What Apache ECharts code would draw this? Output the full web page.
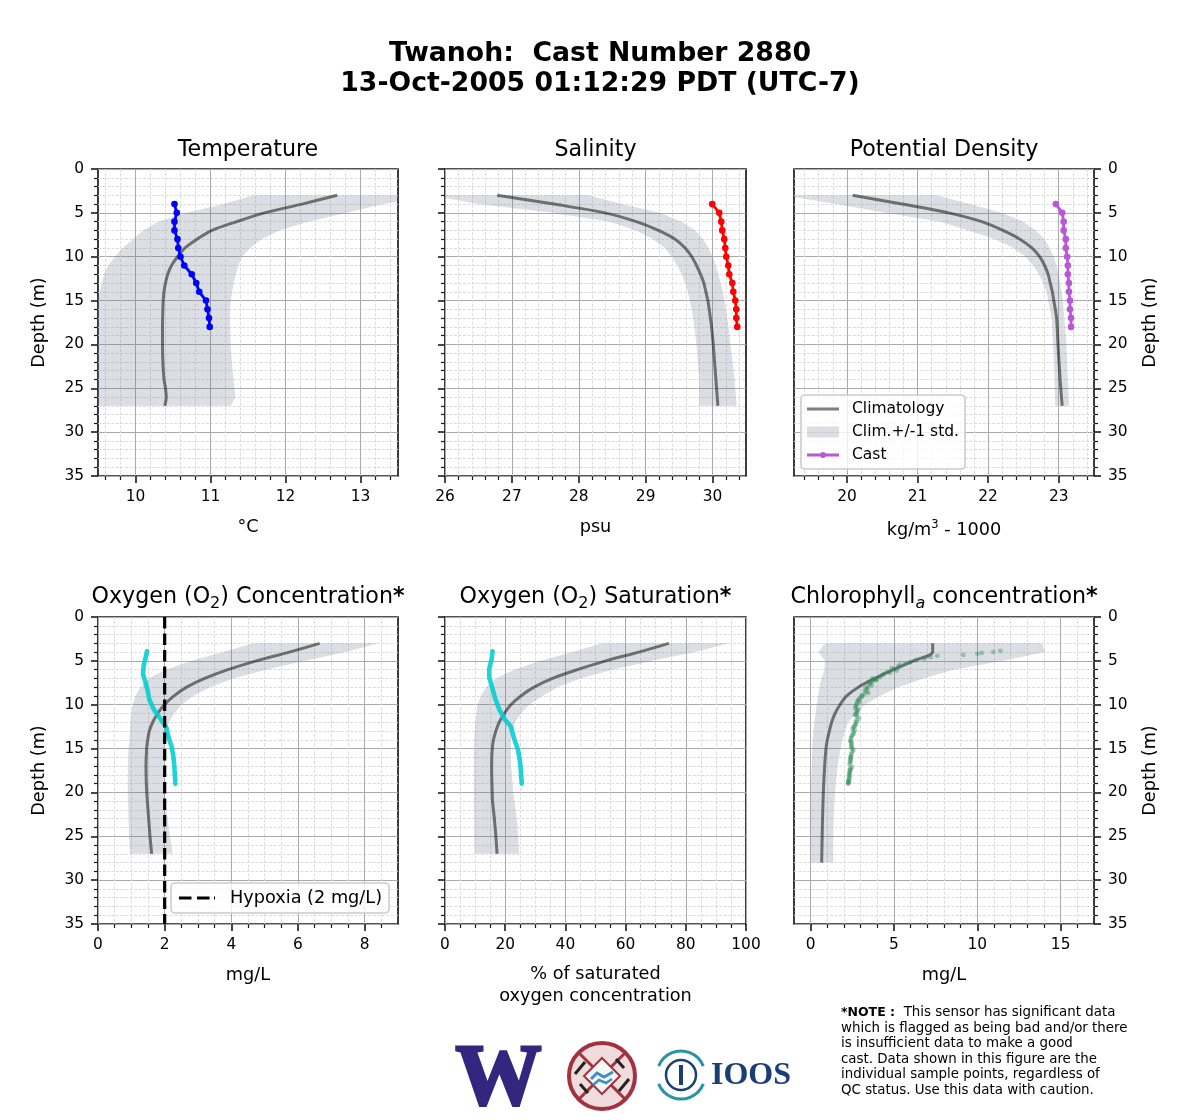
<!DOCTYPE html>
<html><head><meta charset="utf-8">
<style>html,body{margin:0;padding:0;background:#fff}#c{width:1200px;height:1120px}</style>
<script src="https://cdn.jsdelivr.net/npm/echarts@6/dist/echarts.min.js"></script>
</head><body><div id="c"></div>
<script>
// Each list holds [value, depth in m]
const tempTicks=[10,11,12,13];
const salTicks=[26,27,28,29,30];
const densTicks=[20,21,22,23];
const o2cTicks=[0,2,4,6,8];
const o2sTicks=[0,20,40,60,80,100];
const chlTicks=[0,5,10,15];

const tempClim=[[12.69,3],[12.22,4],[11.72,5],[11.35,6],[11.02,7],[10.82,8],[10.66,9],[10.56,10],[10.48,11],[10.43,12],[10.40,13],[10.38,14],[10.37,15],[10.365,16],[10.36,18],[10.36,20],[10.365,22],[10.38,24],[10.40,25],[10.41,26],[10.39,27]];
const tempLow=[[11.57,3],[11.17,4],[10.68,5],[10.3,6],[10.1,7],[9.97,8],[9.83,9],[9.72,10],[9.64,11],[9.58,12],[9.55,13],[9.52,14],[9.49,15],[9.45,17],[9.43,20],[9.43,24],[9.45,27]];
const tempHigh=[[14.0,3],[13.3,4],[12.82,5],[12.3,6],[11.92,7],[11.68,8],[11.53,9],[11.42,10],[11.37,11],[11.34,12],[11.31,13],[11.29,14],[11.27,15],[11.26,16],[11.26,18],[11.27,20],[11.29,22.6],[11.32,25],[11.33,26],[11.27,27]];
const tempCast=[[10.52,4],[10.55,5],[10.52,6],[10.52,7],[10.56,8],[10.57,9],[10.60,10],[10.65,11],[10.75,12],[10.81,13],[10.85,14],[10.94,15],[10.96,16],[10.98,17],[10.99,18]];

const salClim=[[26.78,3],[27.63,4],[28.39,5],[28.86,6],[29.19,7],[29.44,8],[29.59,9],[29.69,10],[29.76,11],[29.82,12],[29.87,13],[29.9,14],[29.93,15],[29.95,16],[29.985,18],[30.01,20],[30.03,22],[30.05,24],[30.07,26],[30.08,27]];
const salLow=[[25.8,3],[26.5,4],[27.6,5],[28.46,6],[28.86,7],[29.11,8],[29.29,9],[29.39,10],[29.47,11],[29.54,12],[29.59,13],[29.63,14],[29.66,15],[29.71,17],[29.76,20],[29.8,24],[29.8,27]];
const salHigh=[[28.14,3],[28.64,4],[29.21,5],[29.54,6],[29.74,7],[29.86,8],[29.94,9],[30.0,10],[30.05,11],[30.09,12],[30.12,13],[30.155,14],[30.18,15],[30.22,17],[30.27,20],[30.33,24],[30.36,27]];
const salCast=[[29.995,4],[30.1,5],[30.13,6],[30.145,7],[30.175,8],[30.19,9],[30.205,10],[30.235,11],[30.25,12],[30.295,13],[30.31,14],[30.34,15],[30.355,16],[30.355,17],[30.37,18]];

const densClim=[[20.08,3],[20.78,4],[21.44,5],[21.91,6],[22.21,7],[22.45,8],[22.62,9],[22.73,10],[22.8,11],[22.85,12],[22.88,13],[22.91,14],[22.93,15],[22.97,17],[22.99,20],[23.02,24],[23.05,27]];
const densLow=[[19.1,3],[19.84,4],[20.55,5],[21.32,6],[21.72,7],[22.1,8],[22.36,9],[22.53,10],[22.64,11],[22.72,12],[22.78,13],[22.83,14],[22.85,15],[22.9,17],[22.92,20],[22.94,24],[22.95,27]];
const densHigh=[[21.27,3],[21.74,4],[22.19,5],[22.5,6],[22.68,7],[22.8,8],[22.87,9],[22.93,10],[22.97,11],[23.0,12],[23.02,13],[23.04,14],[23.06,15],[23.08,17],[23.11,20],[23.13,24],[23.15,27]];
const densCast=[[22.96,4],[23.05,5],[23.07,6],[23.07,7],[23.1,8],[23.1,9],[23.12,10],[23.13,11],[23.13,12],[23.145,13],[23.145,14],[23.16,15],[23.16,16],[23.175,17],[23.175,18]];

const o2cClim=[[6.65,3],[5.74,4],[4.75,5],[3.9,6],[3.2,7],[2.66,8],[2.28,9],[1.99,10],[1.79,11],[1.64,12],[1.54,13],[1.49,14],[1.46,15],[1.44,17],[1.45,19],[1.48,21],[1.52,23],[1.56,25],[1.61,27]];
const o2cLow=[[4.65,3],[3.76,4],[2.81,5],[2.02,6],[1.52,7],[1.27,8],[1.12,9],[1.04,10],[0.97,12],[0.94,14],[0.9,16],[0.89,20],[0.92,24],[0.95,27]];
const o2cHigh=[[8.42,3],[7.43,4],[6.23,5],[5.04,6],[4.05,7],[3.36,8],[2.86,9],[2.51,10],[2.28,11],[2.13,12],[2.06,13],[2.01,14],[1.98,15],[1.96,17],[1.98,20],[2.09,23],[2.16,25],[2.24,27]];
const o2cCast=[[1.47,3.9],[1.43,4.6],[1.37,5.5],[1.35,6.5],[1.42,7.4],[1.49,8.4],[1.54,9.4],[1.67,10.5],[1.87,11.6],[2.05,12.6],[2.13,13.9],[2.21,14.8],[2.26,15.9],[2.29,17],[2.32,19]];

const o2sClim=[[74.4,3],[64.4,4],[53.4,5],[44,6],[35.7,7],[29.6,8],[25.2,9],[21.9,10],[19.7,11],[18,12],[16.9,13],[16.1,14],[15.7,15],[15.5,17],[15.6,19],[15.8,21],[16.4,23],[16.9,25],[17.3,27]];
const o2sLow=[[52.3,3],[42.3,4],[31.8,5],[23,6],[16.9,7],[13.6,8],[11.9,9],[10.8,10],[10.1,12],[9.7,14],[9.6,16],[9.6,20],[9.8,27]];
const o2sHigh=[[94.3,3],[83.2,4],[68.8,5],[55.6,6],[45,7],[37.3,8],[32.4,9],[28,10],[25.2,11],[23.3,12],[22.4,13],[22,14],[21.9,15],[22,17],[22.7,20],[23.9,23],[24.3,25],[24.6,27]];
const o2sCast=[[15.8,3.9],[15.5,4.8],[14.7,5.9],[14.7,6.9],[15.8,8.2],[16.7,9.3],[18,10.5],[19.7,11.6],[21.9,12.5],[23,13.9],[24.3,15.2],[25,16.7],[25.5,19]];

const chlClim=[[7.32,3],[7.32,4],[6.16,5],[4.96,6],[3.86,7],[2.86,8],[2.16,9],[1.76,10],[1.46,11],[1.26,12],[1.12,13],[1.0,14],[0.92,15],[0.84,17],[0.76,20],[0.7,24],[0.66,28]];
const chlLow=[[0.86,3],[0.46,4],[0.86,5],[0.82,6],[0.66,7],[0.52,8],[0.36,10],[0.22,12],[0.12,14],[0.06,17],[0,20],[-0.02,24],[-0.02,28]];
const chlHigh=[[13.86,3],[14.1,4],[11.56,5],[8.56,6],[6.76,7],[5.26,8],[4.16,9],[3.26,10],[2.76,11],[2.26,12],[2.06,13],[1.92,14],[1.8,15],[1.62,17],[1.46,20],[1.36,24],[1.36,28]];
const chlCast=[[11.38,3.86],[10.96,3.98],[10.26,4.09],[10.0,4.2],[9.16,4.32],[7.6,4.43],[7.2,4.58],[6.82,4.77],[6.32,4.96],[5.96,5.19],[5.66,5.34],[5.36,5.42],[5.26,5.64],[4.86,5.83],[5.16,6.1],[4.76,6.36],[4.4,6.48],[4.16,6.86],[3.96,7.05],[3.72,7.3],[3.85,7.1],[3.56,7.6],[3.66,7.8],[3.5,7.4],[3.4,8.18],[3.46,8.67],[3.25,8.4],[3.2,8.83],[3.0,9.2],[3.1,9.05],[2.86,9.5],[2.95,9.7],[2.76,9.9],[2.72,10.27],[2.86,10.57],[2.76,10.83],[2.7,11.2],[2.8,11.0],[2.9,11.6],[2.76,11.97],[2.7,12.35],[2.56,12.6],[2.65,12.9],[2.6,13.3],[2.46,13.6],[2.4,14.05],[2.45,14.3],[2.46,14.5],[2.56,15.2],[2.5,15.0],[2.44,15.65],[2.4,16.1],[2.42,16.4],[2.36,16.6],[2.48,17.1],[2.4,17.4],[2.36,17.65],[2.3,18.1],[2.34,18.3],[2.28,18.6],[2.26,19],[2.3,18.85],
 [3.6,7.5],[3.45,7.95],[3.3,8.05],[3.35,8.5],[3.05,8.95],[2.9,9.35],[2.8,9.6],[2.72,10.05],[2.68,10.4],[2.78,10.7],[2.66,11.1],[2.8,11.35],[2.72,11.8],[2.68,12.15],[2.62,12.45],[2.52,12.75],[2.56,13.1],[2.5,13.45],[2.42,13.8],[2.38,14.2],[2.42,14.7],[2.46,14.85],[2.48,15.4],[2.42,15.85],[2.4,15.95],[2.36,16.3],[2.34,16.8],[2.38,17.25],[2.34,17.5],[2.32,17.8],[2.34,18.0],[2.3,18.45],[2.26,18.75],[2.24,18.95],[4.3,6.6],[4.6,6.25],[5.0,5.95],[3.95,7.2],[3.8,7.15],[3.7,7.0]];
const hypoxia=[[2,0],[2,35]];

const FONT='"DejaVu Sans"';
const BAND='rgba(112,128,144,0.25)';
const CLIM='rgba(0,0,0,0.5)';
const GRID_H=307;
const cols=[98,445,794], colW=[300,301,300], rows=[169,617];
const TICK=15.4, LABEL=17.7;
// legend icons: tiny corner triangles pin the path box to itemWidth x itemHeight
const pin32='M0 0L.01 0L.01 .01ZM32 11L31.99 11L31.99 10.99Z';
const ICON_LINE='path://'+pin32+'M0 4H32V7H0Z';
const ICON_MARK='path://'+pin32+'M0 4.1H32V6.9H0ZM13 5.5a3 3 0 1 1 6 0a3 3 0 1 1 -6 0Z';
const ICON_DASH='path://M0 0L.01 0L.01 .01ZM36 11L35.99 11L35.99 10.99ZM0 4H12.5V7H0ZM18 4H30.5V7H18ZM35 4H36V7H35Z';

function minors(min,max,step,majors){const out=[];const n=Math.ceil(min/step);
  for(let k=n;k*step<=max+1e-9;k++){const v=+(k*step).toFixed(4);
    if(v>min+1e-9&&v<max-1e-9&&!majors.includes(v))out.push(v);}return out;}

const panels=[
 {t:'Temperature',xn:'°C',min:9.5,max:13.5,maj:tempTicks,step:.2,clim:tempClim,lo:tempLow,hi:tempHigh,cast:tempCast,color:'#0000ff',kind:'mark'},
 {t:'Salinity',xn:'psu',min:26,max:30.5,maj:salTicks,step:.2,clim:salClim,lo:salLow,hi:salHigh,cast:salCast,color:'#ff0000',kind:'mark'},
 {t:'Potential Density',xn:'kg/m{sup|3} - 1000',min:19.25,max:23.5,maj:densTicks,step:.2,clim:densClim,lo:densLow,hi:densHigh,cast:densCast,color:'#b857d8',kind:'mark',names:true},
 {t:'Oxygen (O{sub|2}) Concentration{b|*}',xn:'mg/L',min:0,max:9,maj:o2cTicks,step:.5,clim:o2cClim,lo:o2cLow,hi:o2cHigh,cast:o2cCast,color:'rgba(0,206,209,0.88)',kind:'thick'},
 {t:'Oxygen (O{sub|2}) Saturation{b|*}',xn:'% of saturated\noxygen concentration',min:0,max:100,maj:o2sTicks,step:5,clim:o2sClim,lo:o2sLow,hi:o2sHigh,cast:o2sCast,color:'rgba(0,206,209,0.88)',kind:'thick'},
 {t:'Chlorophyll{ita|a} concentration{b|*}',xn:'mg/L',min:-1,max:17,maj:chlTicks,step:1,clim:chlClim,lo:chlLow,hi:chlHigh,cast:chlCast,color:'rgba(46,139,87,0.5)',kind:'scatter'}
];

const grid=[],xAxis=[],yAxis=[],series=[],title=[];
const titleRich={sub:{fontSize:16,fontFamily:FONT,verticalAlign:'bottom',lineHeight:30},
  b:{fontSize:22.2,fontWeight:'bold',fontFamily:FONT},
  ita:{fontSize:16,fontStyle:'italic',fontFamily:FONT,verticalAlign:'bottom',lineHeight:30}};

panels.forEach((p,i)=>{
  const c=i%3,r=Math.floor(i/3),left=cols[c],w=colW[c],top=rows[r];
  grid.push({left,top,width:w,height:GRID_H,show:true,borderColor:'#1a1a1a',borderWidth:1.7,backgroundColor:'#fff'});
  xAxis.push({type:'value',gridIndex:i,min:p.min,max:p.max,position:'bottom',
    name:p.xn,nameLocation:'middle',nameGap:i===2?43:(i===4?40:41),
    nameTextStyle:{fontFamily:FONT,fontSize:LABEL,color:'#000',lineHeight:21.5,rich:{sup:{fontSize:11.5,fontFamily:FONT,verticalAlign:'top',lineHeight:22}}},
    axisLine:{show:false,onZero:false},
    axisTick:{show:true,length:7,inside:false,customValues:p.maj,lineStyle:{color:'#1a1a1a',width:1.6}},
    axisLabel:{show:true,customValues:p.maj,fontFamily:FONT,fontSize:TICK,color:'#000',margin:13,hideOverlap:false,showMinLabel:true,showMaxLabel:true},
    splitLine:{show:true,lineStyle:{color:'#aaaaaa',width:1}}});
  xAxis.push({type:'value',gridIndex:i,min:p.min,max:p.max,position:'bottom',
    axisLine:{show:false,onZero:false},
    axisTick:{show:true,length:4,customValues:minors(p.min,p.max,p.step,p.maj),lineStyle:{color:'#1a1a1a',width:1.2}},
    axisLabel:{show:false,customValues:minors(p.min,p.max,p.step,p.maj)},
    splitLine:{show:true,lineStyle:{color:'#dcdcdc',width:1,type:[3,1.5]}}});
  const right=c===2;
  yAxis.push({type:'value',gridIndex:i,inverse:true,min:0,max:35,interval:5,position:right?'right':'left',
    name:(c===1)?'':'Depth (m)',nameLocation:'middle',nameGap:right?47:50,nameRotate:90,
    nameTextStyle:{fontFamily:FONT,fontSize:LABEL,color:'#000'},
    axisLine:{show:false,onZero:false},
    axisTick:{show:true,length:7,lineStyle:{color:'#1a1a1a',width:1.6}},
    minorTick:{show:true,splitNumber:5,length:4,lineStyle:{color:'#1a1a1a',width:1.2}},
    axisLabel:{show:c!==1,fontFamily:FONT,fontSize:TICK,color:'#000',margin:14,padding:[3,0,0,0]},
    splitLine:{show:true,lineStyle:{color:'#aaaaaa',width:1}},
    minorSplitLine:{show:true,lineStyle:{color:'#dcdcdc',width:1,type:[3,1.5]}}});
  title.push({text:p.t,left:left+w/2,top:r===0?137:582,textAlign:'center',padding:0,
    textStyle:{fontFamily:FONT,fontSize:22.2,fontWeight:'normal',color:'#000',lineHeight:26,rich:titleRich}});

  const xi=i*2;
  const poly=p.lo.concat(p.hi.slice().reverse());
  series.push({type:'custom',name:p.names?'Clim.+/-1 std.':p.t+' band',xAxisIndex:xi,yAxisIndex:i,clip:true,silent:true,z:2,
    data:poly,encode:{x:0,y:1},itemStyle:{color:BAND},
    renderItem:function(params,api){
      if(params.dataIndex!==0)return null;
      return {type:'polygon',shape:{points:poly.map(q=>api.coord(q))},style:{fill:BAND,stroke:null}};
    }});
  series.push({type:'line',name:p.names?'Climatology':p.t+' clim',xAxisIndex:xi,yAxisIndex:i,data:p.clim,showSymbol:false,symbol:'none',silent:true,z:3,
    smooth:0.3,lineStyle:{color:CLIM,width:3,cap:'butt'},itemStyle:{color:CLIM}});
  if(p.kind==='scatter'){
    series.push({type:'scatter',name:'Chl cast',xAxisIndex:xi,yAxisIndex:i,data:p.cast,symbolSize:4.8,silent:true,z:4,itemStyle:{color:p.color}});
  }else if(p.kind==='thick'){
    series.push({type:'line',name:p.t+' cast',xAxisIndex:xi,yAxisIndex:i,data:p.cast,showSymbol:false,symbol:'none',silent:true,z:4,
      lineStyle:{color:p.color,width:4.6,cap:'round',join:'round'},itemStyle:{color:p.color}});
  }else{
    series.push({type:'line',name:p.names?'Cast':p.t+' cast',xAxisIndex:xi,yAxisIndex:i,data:p.cast,showSymbol:true,symbol:'circle',symbolSize:6.6,silent:true,z:4,
      lineStyle:{color:p.color,width:2.8},itemStyle:{color:p.color}});
  }
});
series.push({type:'line',name:'Hypoxia (2 mg/L)',xAxisIndex:6,yAxisIndex:3,data:hypoxia,symbol:'none',showSymbol:false,silent:true,z:5,clip:true,
  lineStyle:{color:'#000',width:3.2,type:[11.5,5]},itemStyle:{color:'#000'}});

title.push({text:'Twanoh:  Cast Number 2880\n13-Oct-2005 01:12:29 PDT (UTC-7)',left:600,top:39,textAlign:'center',padding:0,
  textStyle:{fontFamily:FONT,fontSize:26.7,fontWeight:'bold',color:'#000',lineHeight:30}});
title.push({text:'{b|*NOTE : } This sensor has significant data\nwhich is flagged as being bad and/or there\nis insufficient data to make a good\ncast. Data shown in this figure are the\nindividual sample points, regardless of\nQC status. Use this data with caution.',
  left:841,top:1005,padding:0,
  textStyle:{fontFamily:FONT,fontSize:13.4,fontWeight:'normal',color:'#000',lineHeight:15.5,rich:{b:{fontFamily:FONT,fontSize:12.5,fontWeight:'bold',lineHeight:15.5}}}});

const legend=[
 {left:801,top:395,orient:'vertical',selectedMode:false,itemWidth:32,itemHeight:11,itemGap:7,padding:[6,6,6,6],
  backgroundColor:'rgba(255,255,255,0.8)',borderColor:'#cccccc',borderWidth:1.6,borderRadius:4,
  textStyle:{fontFamily:FONT,fontSize:15.5,color:'#000',padding:[0,0,0,8]},
  data:[{name:'Climatology',icon:ICON_LINE,itemStyle:{color:CLIM}},
        {name:'Clim.+/-1 std.',icon:'rect',itemStyle:{color:BAND}},
        {name:'Cast',icon:ICON_MARK,itemStyle:{color:'#b857d8'}}]},
 {left:171,top:883,orient:'vertical',selectedMode:false,itemWidth:36,itemHeight:11,padding:[6,7,6,8],
  backgroundColor:'rgba(255,255,255,0.8)',borderColor:'#cccccc',borderWidth:1.6,borderRadius:4,
  textStyle:{fontFamily:FONT,fontSize:LABEL,color:'#000',padding:[0,0,0,10]},
  data:[{name:'Hypoxia (2 mg/L)',icon:ICON_DASH,itemStyle:{color:'#000'}}]}
];

// Logos drawn as vector marks and real text
const RED='#a2323f',TEAL='#2a93a8',NAVY='#1b3f73';
const graphic=[
 {type:'text',left:454,top:1037,style:{text:'W',font:'bold 86px "Liberation Serif"',fill:'#33267f',stroke:'#33267f',lineWidth:3}},
 {type:'circle',shape:{cx:602,cy:1076,r:33},style:{fill:'#f0dcdc',stroke:RED,lineWidth:4}},
 {type:'line',shape:{x1:579,y1:1053,x2:625,y2:1099},style:{stroke:RED,lineWidth:3}},
 {type:'line',shape:{x1:625,y1:1053,x2:579,y2:1099},style:{stroke:RED,lineWidth:3}},
 {type:'polygon',shape:{points:[[602,1058],[620,1076],[602,1094],[584,1076]]},style:{fill:'#f4f6f8',stroke:RED,lineWidth:2}},
 {type:'line',shape:{x1:575,y1:1074,x2:585,y2:1062},style:{stroke:'#222',lineWidth:3}},
 {type:'line',shape:{x1:619,y1:1091,x2:629,y2:1079},style:{stroke:'#222',lineWidth:3}},
 {type:'line',shape:{x1:616,y1:1059,x2:624,y2:1068},style:{stroke:'#222',lineWidth:3}},
 {type:'line',shape:{x1:580,y1:1084,x2:588,y2:1093},style:{stroke:'#222',lineWidth:3}},
 {type:'polyline',shape:{points:[[591,1079],[597,1073],[604,1077],[613,1072]]},style:{stroke:'#3f8fc4',lineWidth:3,fill:null}},
 {type:'polyline',shape:{points:[[593,1085],[599,1080],[606,1083],[612,1079]]},style:{stroke:'#3f8fc4',lineWidth:2.5,fill:null}},
 {type:'arc',shape:{cx:681,cy:1075,r:24,startAngle:Math.PI*1.12,endAngle:Math.PI*1.88},style:{stroke:TEAL,lineWidth:3,fill:null}},
 {type:'arc',shape:{cx:681,cy:1075,r:24,startAngle:Math.PI*0.12,endAngle:Math.PI*0.88},style:{stroke:TEAL,lineWidth:3,fill:null}},
 {type:'circle',shape:{cx:681,cy:1075,r:15},style:{fill:'#fff',stroke:NAVY,lineWidth:2.5}},
 {type:'rect',shape:{x:679,y:1065,width:4,height:20},style:{fill:NAVY}},
 {type:'text',left:711,top:1060,style:{text:'IOOS',font:'bold 32px "Liberation Serif"',fill:NAVY}}
];

const chart=echarts.init(document.getElementById('c'),null,{renderer:'canvas'});
chart.setOption({animation:false,backgroundColor:'#fff',grid,xAxis,yAxis,series,title,legend,graphic});
</script></body></html>
